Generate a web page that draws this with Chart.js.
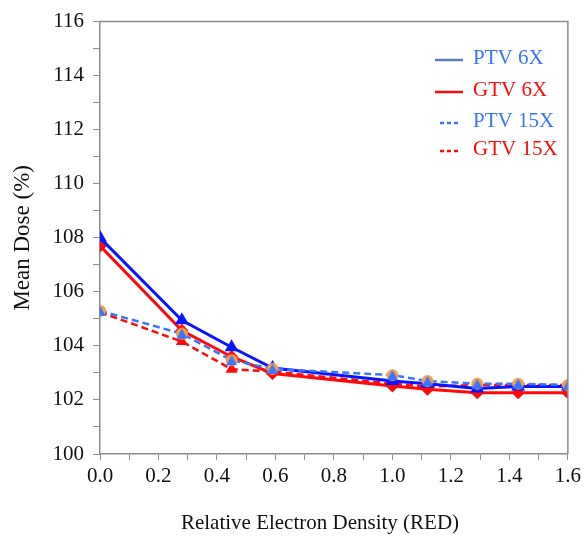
<!DOCTYPE html>
<html>
<head>
<meta charset="utf-8">
<script src="https://cdn.jsdelivr.net/npm/chart.js@4.4.1/dist/chart.umd.min.js"></script>
<style>
  html, body { margin: 0; padding: 0; background: #fff; }
  #wrap { width: 585px; height: 546px; }
</style>
</head>
<body>
<div id="wrap"><canvas id="doseChart" width="585" height="546"></canvas></div>
<script>
// ---- data ----
const redValues = [0.0, 0.28, 0.45, 0.59, 1.0, 1.12, 1.29, 1.43, 1.6];
const ptv6x  = [108.0, 104.95, 103.95, 103.18, 102.70, 102.60, 102.42, 102.50, 102.50];
const gtv6x  = [107.7, 104.57, 103.60, 102.98, 102.52, 102.40, 102.27, 102.27, 102.27];
const ptv15x = [105.3, 104.45, 103.47, 103.15, 102.92, 102.70, 102.60, 102.60, 102.55];
const gtv15x = [105.25, 104.16, 103.14, 103.05, 102.60, 102.50, 102.55, 102.55, 102.55];
const seriesLabels = ["PTV 6X", "GTV 6X", "PTV 15X", "GTV 15X"];
const yTicks = [100, 102, 104, 106, 108, 110, 112, 114, 116];
const xTicks = [0.0, 0.2, 0.4, 0.6, 0.8, 1.0, 1.2, 1.4, 1.6];
const xTitle = "Relative Electron Density (RED)";

const FONT = "'Liberation Serif', 'Times New Roman', serif";
const BLUE = "#0a14ff";
const LIGHT_BLUE = "#3a74ff";
const RED = "#ff0a0a";
const AXIS_GREY = "#8c8c8c";

// orange circle with blue triangle on top (marker of PTV 15X)
function makeComboMarker() {
  const c = document.createElement("canvas");
  c.width = 14; c.height = 14;
  const g = c.getContext("2d");
  g.fillStyle = "#f0a050";
  g.beginPath(); g.arc(7, 7, 6, 0, Math.PI * 2); g.fill();
  g.fillStyle = LIGHT_BLUE;
  g.beginPath(); g.moveTo(7, 2); g.lineTo(12.5, 12); g.lineTo(1.5, 12); g.closePath(); g.fill();
  return c;
}

function toPoints(ys) {
  return redValues.map((x, i) => ({ x: x, y: ys[i] }));
}

// legend drawn inside the plot (top right), box edges and the x title
const insideLegend = {
  id: "insideLegend",
  afterDraw(chart) {
    const ctx = chart.ctx;
    const area = chart.chartArea;
    const legendColors = ["#5a7fc0", RED, LIGHT_BLUE, RED];
    const textColors = [LIGHT_BLUE, RED, LIGHT_BLUE, RED];
    const rowsY = [58, 90, 121, 149];
    ctx.save();
    // box on top and right side
    ctx.strokeStyle = AXIS_GREY;
    ctx.lineWidth = 1.5;
    ctx.beginPath();
    ctx.moveTo(area.left, area.top);
    ctx.lineTo(area.right, area.top);
    ctx.lineTo(area.right, area.bottom);
    ctx.stroke();

    ctx.font = "21px " + FONT;
    ctx.textBaseline = "middle";
    seriesLabels.forEach((lab, i) => {
      const y = rowsY[i];
      const ds = chart.data.datasets[i];
      ctx.strokeStyle = legendColors[i];
      ctx.lineWidth = 2.5;
      if (ds.borderDash && ds.borderDash.length) {
        ctx.setLineDash([4, 3]);
        ctx.beginPath(); ctx.moveTo(440, y + 2); ctx.lineTo(461, y + 2); ctx.stroke();
      } else {
        ctx.setLineDash([]);
        ctx.beginPath(); ctx.moveTo(435, y + 2); ctx.lineTo(463, y + 2); ctx.stroke();
      }
      ctx.setLineDash([]);
      ctx.fillStyle = textColors[i];
      ctx.fillText(lab, 473, y);
    });

    // x axis title (sits a bit left of the plot centre in the original)
    ctx.fillStyle = "#111";
    ctx.textAlign = "center";
    ctx.font = "21px " + FONT;
    ctx.fillText(xTitle, 320, 523);
    ctx.restore();
  }
};

const ctx = document.getElementById("doseChart").getContext("2d");
new Chart(ctx, {
  type: "scatter",
  data: {
    datasets: [
      {
        label: seriesLabels[0],
        data: toPoints(ptv6x),
        showLine: true,
        borderColor: BLUE,
        backgroundColor: BLUE,
        borderWidth: 3,
        pointStyle: "triangle",
        pointRadius: 5,
        order: 2,
      },
      {
        label: seriesLabels[1],
        data: toPoints(gtv6x),
        showLine: true,
        borderColor: RED,
        backgroundColor: RED,
        borderWidth: 3,
        pointStyle: "rectRot",
        pointRadius: 4.5,
        order: 3,
      },
      {
        label: seriesLabels[2],
        data: toPoints(ptv15x),
        showLine: true,
        borderColor: LIGHT_BLUE,
        backgroundColor: LIGHT_BLUE,
        borderWidth: 2.5,
        borderDash: [7, 4],
        pointStyle: makeComboMarker(),
        order: 1,
      },
      {
        label: seriesLabels[3],
        data: toPoints(gtv15x),
        showLine: true,
        borderColor: RED,
        backgroundColor: RED,
        borderWidth: 2.5,
        borderDash: [7, 4],
        pointStyle: "triangle",
        pointRadius: 4.5,
        order: 4,
      },
    ],
  },
  options: {
    responsive: false,
    animation: false,
    layout: { padding: { left: 0, right: 13, top: 15, bottom: 0 } },
    plugins: {
      legend: { display: false },
      tooltip: { enabled: false },
    },
    scales: {
      x: {
        type: "linear",
        min: 0,
        max: 1.6,
        afterBuildTicks: (scale) => {
          const t = [];
          for (let i = 0; i <= 16; i++) t.push({ value: i / 10 });
          scale.ticks = t;
        },
        ticks: {
          font: { family: FONT, size: 21 },
          color: "#111",
          padding: 4,
          maxRotation: 0,
          autoSkip: false,
          callback: (v) => {
            const hit = xTicks.find(t => Math.abs(t - v) < 1e-6);
            return hit === undefined ? "" : hit.toFixed(1);
          },
        },
        grid: { drawOnChartArea: false, color: AXIS_GREY, tickLength: 6 },
        border: { color: AXIS_GREY, width: 1.5 },
        title: { display: false },
        afterFit: (scale) => { scale.height = 92; },
      },
      y: {
        min: 100,
        max: 116,
        afterBuildTicks: (scale) => {
          const t = [];
          for (let v = 100; v <= 116; v++) t.push({ value: v });
          scale.ticks = t;
        },
        ticks: {
          font: { family: FONT, size: 21 },
          color: "#111",
          padding: 9,
          autoSkip: false,
          callback: (v) => (yTicks.includes(v) ? String(v) : ""),
        },
        grid: { drawOnChartArea: false, color: AXIS_GREY, tickLength: 7 },
        border: { color: AXIS_GREY, width: 1.5 },
        title: {
          display: true,
          text: "Mean Dose (%)",
          font: { family: FONT, size: 23 },
          color: "#111",
          padding: { top: 9, bottom: 0 },
        },
        afterFit: (scale) => { scale.width = 100; },
      },
    },
  },
  plugins: [insideLegend],
});
</script>
</body>
</html>
